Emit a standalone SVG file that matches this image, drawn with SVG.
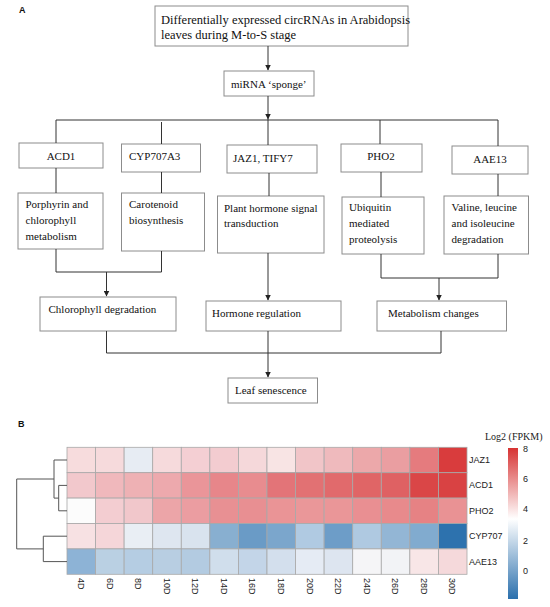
<svg xmlns="http://www.w3.org/2000/svg" width="550" height="607" viewBox="0 0 550 607">
<defs>
<marker id="ah" markerWidth="6" markerHeight="6" refX="5.5" refY="3" orient="auto" markerUnits="userSpaceOnUse">
<path d="M0,0 L6,3 L0,6 Z" fill="#222"/>
</marker>
<linearGradient id="leg" x1="0" y1="0" x2="0" y2="1">
<stop offset="0" stop-color="#d73333"/>
<stop offset="0.47" stop-color="#ffffff"/>
<stop offset="1" stop-color="#2b70ad"/>
</linearGradient>
<style>
.box{fill:#fff;stroke:#8c8c8c;stroke-width:1}
.t{font-family:"Liberation Serif","Times New Roman",serif;font-size:11px;fill:#111}
.tl{font-family:"Liberation Serif","Times New Roman",serif;font-size:12.5px;fill:#111}
.c{stroke:#333;stroke-width:1;fill:none}
.lab{font-family:"Liberation Sans",Arial,sans-serif;font-weight:bold;font-size:9px;fill:#111}
.hl{font-family:"Liberation Sans",Arial,sans-serif;font-size:9px;fill:#222}
.cell{stroke:#a8a8a8;stroke-width:0.8}
.den{stroke:#555;stroke-width:1;fill:none}
</style>
</defs>
<rect width="550" height="607" fill="#fff"/>
<text class="lab" x="19" y="13">A</text>
<text class="lab" x="18" y="427">B</text>

<g id="top"><rect class="box" x="155" y="6" width="253" height="40"/>
<text class="tl" x="161" y="24">Differentially expressed circRNAs in Arabidopsis</text>
<text class="tl" x="161" y="39">leaves during M-to-S stage</text></g>
<g id="mirna"><rect class="box" x="224" y="71" width="90" height="25"/>
<text class="t" x="231" y="88">miRNA ‘sponge’</text></g>

<g id="acd1"><rect class="box" x="19" y="143" width="84" height="25"/><text class="t" x="61" y="160" text-anchor="middle">ACD1</text></g>
<g id="cyp"><rect class="box" x="121.5" y="144" width="79" height="28"/><text class="t" x="129" y="160">CYP707A3</text></g>
<g id="jaz"><rect class="box" x="227" y="145" width="90" height="28"/><text class="t" x="233" y="162">JAZ1, TIFY7</text></g>
<g id="pho2"><rect class="box" x="341" y="144" width="81" height="28"/><text class="t" x="381" y="160" text-anchor="middle">PHO2</text></g>
<g id="aae13"><rect class="box" x="452" y="146" width="76" height="28"/><text class="t" x="490" y="163" text-anchor="middle">AAE13</text></g>

<g id="porph"><rect class="box" x="18" y="193" width="85" height="56"/>
<text class="t" x="25.5" y="208">Porphyrin and</text><text class="t" x="25.5" y="224">chlorophyll</text><text class="t" x="25.5" y="240">metabolism</text></g>
<g id="carot"><rect class="box" x="121.5" y="193" width="83" height="58"/>
<text class="t" x="129" y="208">Carotenoid</text><text class="t" x="129" y="224">biosynthesis</text></g>
<g id="plant"><rect class="box" x="217.5" y="196" width="106.5" height="57"/>
<text class="t" x="224" y="212">Plant hormone signal</text><text class="t" x="224" y="227">transduction</text></g>
<g id="ubiq"><rect class="box" x="342" y="197" width="82" height="57"/>
<text class="t" x="349" y="211">Ubiquitin</text><text class="t" x="349" y="227">mediated</text><text class="t" x="349" y="243">proteolysis</text></g>
<g id="valine"><rect class="box" x="444" y="196" width="84.5" height="58"/>
<text class="t" x="451.5" y="211">Valine, leucine</text><text class="t" x="451.5" y="227">and isoleucine</text><text class="t" x="451.5" y="243">degradation</text></g>

<g id="chl"><rect class="box" x="40" y="297" width="136" height="34"/><text class="t" x="48.5" y="313">Chlorophyll degradation</text></g>
<g id="horm"><rect class="box" x="206" y="301" width="135" height="30"/><text class="t" x="212" y="317">Hormone regulation</text></g>
<g id="metab"><rect class="box" x="377" y="301" width="129.5" height="30"/><text class="t" x="388" y="317">Metabolism changes</text></g>
<g id="leaf"><rect class="box" x="228" y="378" width="89.5" height="25"/><text class="t" x="235" y="394">Leaf senescence</text></g>

<g id="connectors">
<line class="c" x1="268" y1="46" x2="268" y2="70" marker-end="url(#ah)"/>
<line class="c" x1="268" y1="96" x2="268" y2="119" marker-end="url(#ah)"/>
<line class="c" x1="56" y1="120" x2="498" y2="120"/>
<line class="c" x1="56" y1="120" x2="56" y2="143"/>
<line class="c" x1="161.5" y1="122" x2="161.5" y2="144"/>
<line class="c" x1="268" y1="119" x2="268" y2="145"/>
<line class="c" x1="380" y1="120" x2="380" y2="144"/>
<line class="c" x1="498" y1="120" x2="498" y2="146"/>
<line class="c" x1="56" y1="168" x2="56" y2="193"/>
<line class="c" x1="161.5" y1="172" x2="161.5" y2="193"/>
<line class="c" x1="269" y1="173" x2="269" y2="196"/>
<line class="c" x1="381" y1="172" x2="381" y2="197"/>
<line class="c" x1="498" y1="174" x2="498" y2="196"/>
<polyline class="c" points="56,249 56,272 161.5,272 161.5,251"/>
<line class="c" x1="106.5" y1="272" x2="106.5" y2="296" marker-end="url(#ah)"/>
<line class="c" x1="268" y1="253" x2="268" y2="300" marker-end="url(#ah)"/>
<polyline class="c" points="381,254 381,278 498,278 498,254"/>
<line class="c" x1="439" y1="278" x2="439" y2="300" marker-end="url(#ah)"/>
<polyline class="c" points="106.5,331 106.5,353 441,353 441,331"/>
<line class="c" x1="268" y1="331" x2="268" y2="377" marker-end="url(#ah)"/>
</g>

<g id="heatmap">
<g transform="translate(67,447.3)">
<rect class="cell" x="0" y="0" width="28.57" height="25.4" fill="#f7dcdd"/>
<rect class="cell" x="28.57" y="0" width="28.57" height="25.4" fill="#f6dadc"/>
<rect class="cell" x="57.14" y="0" width="28.57" height="25.4" fill="#e7ecf3"/>
<rect class="cell" x="85.71" y="0" width="28.57" height="25.4" fill="#f6dadc"/>
<rect class="cell" x="114.29" y="0" width="28.57" height="25.4" fill="#f4cfd3"/>
<rect class="cell" x="142.86" y="0" width="28.57" height="25.4" fill="#f3ccd0"/>
<rect class="cell" x="171.43" y="0" width="28.57" height="25.4" fill="#f5d8da"/>
<rect class="cell" x="200" y="0" width="28.57" height="25.4" fill="#f8e4e4"/>
<rect class="cell" x="228.57" y="0" width="28.57" height="25.4" fill="#f1c5c8"/>
<rect class="cell" x="257.14" y="0" width="28.57" height="25.4" fill="#efbabd"/>
<rect class="cell" x="285.71" y="0" width="28.57" height="25.4" fill="#eca8aa"/>
<rect class="cell" x="314.29" y="0" width="28.57" height="25.4" fill="#ea9ea1"/>
<rect class="cell" x="342.86" y="0" width="28.57" height="25.4" fill="#e57b7e"/>
<rect class="cell" x="371.43" y="0" width="28.57" height="25.4" fill="#d93c3d"/>
</g>
<g transform="translate(67,472.7)">
<rect class="cell" x="0" y="0" width="28.57" height="25.4" fill="#f2c8cc"/>
<rect class="cell" x="28.57" y="0" width="28.57" height="25.4" fill="#f0b8bc"/>
<rect class="cell" x="57.14" y="0" width="28.57" height="25.4" fill="#eeb1b4"/>
<rect class="cell" x="85.71" y="0" width="28.57" height="25.4" fill="#eda9ad"/>
<rect class="cell" x="114.29" y="0" width="28.57" height="25.4" fill="#ea9599"/>
<rect class="cell" x="142.86" y="0" width="28.57" height="25.4" fill="#e7868a"/>
<rect class="cell" x="171.43" y="0" width="28.57" height="25.4" fill="#e88c8f"/>
<rect class="cell" x="200" y="0" width="28.57" height="25.4" fill="#e37478"/>
<rect class="cell" x="228.57" y="0" width="28.57" height="25.4" fill="#e27173"/>
<rect class="cell" x="257.14" y="0" width="28.57" height="25.4" fill="#e16a6c"/>
<rect class="cell" x="285.71" y="0" width="28.57" height="25.4" fill="#e06566"/>
<rect class="cell" x="314.29" y="0" width="28.57" height="25.4" fill="#df6163"/>
<rect class="cell" x="342.86" y="0" width="28.57" height="25.4" fill="#da4647"/>
<rect class="cell" x="371.43" y="0" width="28.57" height="25.4" fill="#d94243"/>
</g>
<g transform="translate(67,498.1)">
<rect class="cell" x="0" y="0" width="28.57" height="25.4" fill="#fcfcfc"/>
<rect class="cell" x="28.57" y="0" width="28.57" height="25.4" fill="#f3cdd1"/>
<rect class="cell" x="57.14" y="0" width="28.57" height="25.4" fill="#f1c7cb"/>
<rect class="cell" x="85.71" y="0" width="28.57" height="25.4" fill="#eca5a8"/>
<rect class="cell" x="114.29" y="0" width="28.57" height="25.4" fill="#eb9da1"/>
<rect class="cell" x="142.86" y="0" width="28.57" height="25.4" fill="#e89093"/>
<rect class="cell" x="171.43" y="0" width="28.57" height="25.4" fill="#e88f92"/>
<rect class="cell" x="200" y="0" width="28.57" height="25.4" fill="#ea9496"/>
<rect class="cell" x="228.57" y="0" width="28.57" height="25.4" fill="#ea9799"/>
<rect class="cell" x="257.14" y="0" width="28.57" height="25.4" fill="#ea9698"/>
<rect class="cell" x="285.71" y="0" width="28.57" height="25.4" fill="#e98f92"/>
<rect class="cell" x="314.29" y="0" width="28.57" height="25.4" fill="#e88a8c"/>
<rect class="cell" x="342.86" y="0" width="28.57" height="25.4" fill="#e68284"/>
<rect class="cell" x="371.43" y="0" width="28.57" height="25.4" fill="#e99294"/>
</g>
<g transform="translate(67,523.5)">
<rect class="cell" x="0" y="0" width="28.57" height="25.4" fill="#f7e1e3"/>
<rect class="cell" x="28.57" y="0" width="28.57" height="25.4" fill="#f5d6d9"/>
<rect class="cell" x="57.14" y="0" width="28.57" height="25.4" fill="#e9eef4"/>
<rect class="cell" x="85.71" y="0" width="28.57" height="25.4" fill="#dee6f0"/>
<rect class="cell" x="114.29" y="0" width="28.57" height="25.4" fill="#d9e3ee"/>
<rect class="cell" x="142.86" y="0" width="28.57" height="25.4" fill="#88afd0"/>
<rect class="cell" x="171.43" y="0" width="28.57" height="25.4" fill="#6a9bc6"/>
<rect class="cell" x="200" y="0" width="28.57" height="25.4" fill="#7ba6cc"/>
<rect class="cell" x="228.57" y="0" width="28.57" height="25.4" fill="#b0cae2"/>
<rect class="cell" x="257.14" y="0" width="28.57" height="25.4" fill="#6d9dc8"/>
<rect class="cell" x="285.71" y="0" width="28.57" height="25.4" fill="#afc9e1"/>
<rect class="cell" x="314.29" y="0" width="28.57" height="25.4" fill="#93b6d5"/>
<rect class="cell" x="342.86" y="0" width="28.57" height="25.4" fill="#81abcf"/>
<rect class="cell" x="371.43" y="0" width="28.57" height="25.4" fill="#2d72ae"/>
</g>
<g transform="translate(67,548.9)">
<rect class="cell" x="0" y="0" width="28.57" height="25.4" fill="#8db3d6"/>
<rect class="cell" x="28.57" y="0" width="28.57" height="25.4" fill="#bad0e3"/>
<rect class="cell" x="57.14" y="0" width="28.57" height="25.4" fill="#b5cde3"/>
<rect class="cell" x="85.71" y="0" width="28.57" height="25.4" fill="#b8cee2"/>
<rect class="cell" x="114.29" y="0" width="28.57" height="25.4" fill="#b3cbe1"/>
<rect class="cell" x="142.86" y="0" width="28.57" height="25.4" fill="#d0deec"/>
<rect class="cell" x="171.43" y="0" width="28.57" height="25.4" fill="#c3d5e8"/>
<rect class="cell" x="200" y="0" width="28.57" height="25.4" fill="#d3dfed"/>
<rect class="cell" x="228.57" y="0" width="28.57" height="25.4" fill="#e5ebf4"/>
<rect class="cell" x="257.14" y="0" width="28.57" height="25.4" fill="#dde5f0"/>
<rect class="cell" x="285.71" y="0" width="28.57" height="25.4" fill="#f5f5f7"/>
<rect class="cell" x="314.29" y="0" width="28.57" height="25.4" fill="#f2f3f6"/>
<rect class="cell" x="342.86" y="0" width="28.57" height="25.4" fill="#f8e6e7"/>
<rect class="cell" x="371.43" y="0" width="28.57" height="25.4" fill="#f5d9db"/>
</g>
</g>

<g id="row-labels">
<text class="hl" x="469" y="463">JAZ1</text>
<text class="hl" x="469" y="488">ACD1</text>
<text class="hl" x="469" y="514">PHO2</text>
<text class="hl" x="469" y="539">CYP707</text>
<text class="hl" x="469" y="565">AAE13</text>
</g>

<g id="col-labels">
<text class="hl" transform="translate(78,578) rotate(90)">4D</text>
<text class="hl" transform="translate(106.6,578) rotate(90)">6D</text>
<text class="hl" transform="translate(135.1,578) rotate(90)">8D</text>
<text class="hl" transform="translate(163.7,578) rotate(90)">10D</text>
<text class="hl" transform="translate(192.3,578) rotate(90)">12D</text>
<text class="hl" transform="translate(220.9,578) rotate(90)">14D</text>
<text class="hl" transform="translate(249.4,578) rotate(90)">16D</text>
<text class="hl" transform="translate(278,578) rotate(90)">18D</text>
<text class="hl" transform="translate(306.6,578) rotate(90)">20D</text>
<text class="hl" transform="translate(335.1,578) rotate(90)">22D</text>
<text class="hl" transform="translate(363.7,578) rotate(90)">24D</text>
<text class="hl" transform="translate(392.3,578) rotate(90)">26D</text>
<text class="hl" transform="translate(420.9,578) rotate(90)">28D</text>
<text class="hl" transform="translate(449.4,578) rotate(90)">30D</text>
</g>

<g id="dendrogram">
<polyline class="den" points="67,485.4 58.7,485.4 58.7,510.8 67,510.8"/>
<polyline class="den" points="67,460 54,460 54,498.1 58.7,498.1"/>
<polyline class="den" points="67,536.2 43.3,536.2 43.3,561.6 67,561.6"/>
<polyline class="den" points="54,479 16.7,479 16.7,548.9 43.3,548.9"/>
</g>

<g id="legend">
<text x="485" y="440" style="font-family:'Liberation Serif','Times New Roman',serif;font-size:10px;fill:#222">Log2 (FPKM)</text>
<rect x="508" y="448" width="10" height="151" fill="url(#leg)"/>
<text class="hl" x="523" y="452">8</text>
<text class="hl" x="523" y="482">6</text>
<text class="hl" x="523" y="512">4</text>
<text class="hl" x="523" y="544">2</text>
<text class="hl" x="523" y="574">0</text>
</g>
</svg>
